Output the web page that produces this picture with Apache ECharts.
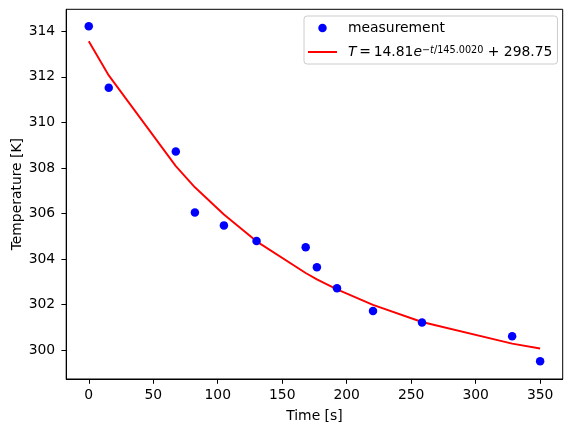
<!DOCTYPE html>
<html><head><meta charset="utf-8">
<script src="https://cdn.jsdelivr.net/npm/echarts@6/dist/echarts.min.js"></script>
<style>html,body{margin:0;padding:0;background:#fff}#c{width:571px;height:432px}</style>
</head><body><div id="c"></div>
<script>
var timeS = [0, 15.5, 67.5, 82.3, 104.8, 130.1, 168.2, 176.9, 192.5, 220.4, 258.4, 328.3, 350];
var tempK = [314.22, 311.52, 308.72, 306.04, 305.48, 304.79, 304.52, 303.64, 302.72, 301.72, 301.22, 300.62, 299.52];
var fitK = [313.56, 312.06, 308.08, 307.15, 305.96, 304.78, 303.39, 303.11, 302.67, 301.99, 301.24, 300.29, 300.08];
var xTicks = [0, 50, 100, 150, 200, 250, 300, 350];
var yTicks = [300, 302, 304, 306, 308, 310, 312, 314];

var font = 'DejaVu Sans';
var fs = 13.9;
var dotIcon = 'path://M0,0h0.01v0.01h-0.01z M13.99,13.99h0.01v0.01h-0.01z M2.75,7a4.25,4.25 0 1,0 8.5,0a4.25,4.25 0 1,0 -8.5,0z';
var lineIcon = 'path://M0,0h0.01v0.01h-0.01z M28.99,13.99h0.01v0.01h-0.01z M0,6h29v1.9h-29z';
var chart = echarts.init(document.getElementById('c'));
chart.setOption({
  animation: false,
  backgroundColor: '#ffffff',
  textStyle: {fontFamily: font},
  grid: {left: 66.2, right: 8.3, top: 9.3, bottom: 53, containLabel: false, outerBoundsMode: 'none',
    show: true, borderColor: '#000', borderWidth: 1, backgroundColor: 'transparent'},
  xAxis: {
    type: 'value', min: -17.5, max: 367.5,
    name: 'Time [s]', nameLocation: 'middle', nameGap: 30, nameMoveOverlap: false,
    nameTextStyle: {fontFamily: font, fontSize: fs, color: '#000'},
    axisLine: {show: true, onZero: false, lineStyle: {color: '#000', width: 1}},
    axisTick: {show: true, length: 4.8, lineStyle: {color: '#000'}, customValues: xTicks},
    axisLabel: {fontFamily: font, fontSize: fs, color: '#000', margin: 9, customValues: xTicks},
    splitLine: {show: false}
  },
  yAxis: {
    type: 'value', min: 298.74, max: 314.96,
    name: 'Temperature [K]', nameLocation: 'middle', nameGap: 42, nameMoveOverlap: false,
    nameTextStyle: {fontFamily: font, fontSize: fs, color: '#000'},
    axisLine: {show: true, onZero: false, lineStyle: {color: '#000', width: 1}},
    axisTick: {show: true, length: 4.8, lineStyle: {color: '#000'}, customValues: yTicks},
    axisLabel: {fontFamily: font, fontSize: fs, color: '#000', margin: 11, customValues: yTicks},
    splitLine: {show: false}
  },
  legend: {
    orient: 'vertical', left: 304, top: 16,
    padding: [5, 5, 5, 4],
    itemWidth: 29, itemHeight: 14, itemGap: 10,
    backgroundColor: 'rgba(255,255,255,0.8)', borderColor: '#cccccc', borderWidth: 1, borderRadius: 3,
    textStyle: {fontFamily: font, fontSize: fs, color: '#000', padding: [0, 0, 0, 6],
      rich: {
        n: {fontFamily: font, fontSize: fs, color: '#000', lineHeight: 14, verticalAlign: 'bottom'},
        it: {fontFamily: font, fontSize: fs, fontStyle: 'italic', color: '#000', lineHeight: 14, verticalAlign: 'bottom'},
        sup: {fontFamily: font, fontSize: 9.7, color: '#000', lineHeight: 9, verticalAlign: 'top'},
        supi: {fontFamily: font, fontSize: 9.7, fontStyle: 'italic', color: '#000', lineHeight: 9, verticalAlign: 'top'}
      }
    },
    data: [
      {name: 'measurement', icon: dotIcon, itemStyle: {color: '#0000ff', opacity: 1}},
      {name: 'fit', icon: lineIcon, itemStyle: {color: '#ff0000', opacity: 1}}
    ],
    formatter: function (name) {
      if (name === 'fit') return '{it|T}{n|\u2009=\u200914.81}{it|e}{supi|\u2212t}{sup|/145.0020}{n| + 298.75}';
      return '{n|measurement}';
    }
  },
  series: [
    {
      name: 'measurement', type: 'scatter', symbol: 'circle', symbolSize: 8.5,
      itemStyle: {color: '#0000ff', opacity: 1},
      data: timeS.map(function (t, i) { return [t, tempK[i]]; }),
      z: 3
    },
    {
      name: 'fit', type: 'line', showSymbol: false, symbol: 'none',
      lineStyle: {color: '#ff0000', width: 1.9},
      itemStyle: {color: '#ff0000'},
      data: timeS.map(function (t, i) { return [t, fitK[i]]; }),
      z: 2
    }
  ]
});
</script></body></html>
